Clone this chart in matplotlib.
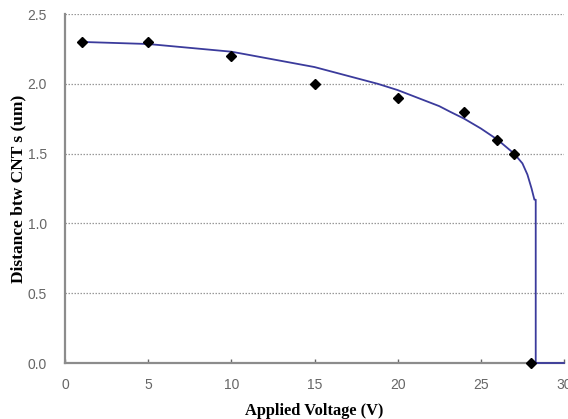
import matplotlib
matplotlib.use("Agg")
import matplotlib.pyplot as plt

# measured points
voltage = [1, 5, 10, 15, 20, 24, 26, 27, 28]
distance = [2.3, 2.3, 2.2, 2.0, 1.9, 1.8, 1.6, 1.5, 0.0]

# fitted curve
fitV = [1, 5, 10, 11.1, 15, 18.8, 20, 22.5, 23.15, 24, 25, 26, 27, 27.5, 27.8, 28.05, 28.22, 28.3, 28.3, 30]
fitD = [2.30, 2.285, 2.23, 2.206, 2.12, 2.00, 1.955, 1.84, 1.80, 1.75, 1.68, 1.60, 1.50, 1.43, 1.35, 1.25, 1.17, 1.17, 0.0, 0.0]

xticks = [0, 5, 10, 15, 20, 25, 30]
yticks = [0.0, 0.5, 1.0, 1.5, 2.0, 2.5]

fig = plt.figure(figsize=(5.68, 4.19), dpi=100)
ax = fig.add_axes([65/568, 56/419, 499/568, 349/419])

for y in yticks[1:]:
    ax.axhline(y, color='#999999', linestyle=(0, (1.2, 1.2)), linewidth=0.9, zorder=1)

ax.plot(fitV, fitD, color='#3b3b9c', linewidth=1.3, zorder=4, clip_on=False)
ax.plot(voltage, distance, linestyle='none', marker='D', markersize=5.5,
        color='black', zorder=5, clip_on=False)

ax.set_xlim(0, 30)
ax.set_ylim(0, 2.5)
ax.set_xticks(xticks)
ax.set_yticks(yticks)
ax.set_xticklabels([str(t) for t in xticks])
ax.set_yticklabels(['%.1f' % t for t in yticks])

ax.spines['top'].set_visible(False)
ax.spines['right'].set_visible(False)
for s in ['left', 'bottom']:
    ax.spines[s].set_color('#8c8c8c')
    ax.spines[s].set_linewidth(1.6)
    ax.spines[s].set_zorder(3)

ax.tick_params(axis='x', direction='in', length=3, color='#666666', width=1,
               labelsize=10, labelcolor='#666666', pad=11)
ax.tick_params(axis='y', length=0, labelsize=10, labelcolor='#666666', pad=13)
for lab in ax.get_xticklabels() + ax.get_yticklabels():
    lab.set_family('Liberation Sans')

ax.set_xlabel("Applied Voltage (V)", fontfamily='Liberation Serif',
              fontweight='bold', fontsize=11.8, labelpad=8)
ax.set_ylabel("Distance btw CNT s (um)", fontfamily='Liberation Serif',
              fontweight='bold', fontsize=12.5, labelpad=1)

fig.savefig("out.png", dpi=100)
